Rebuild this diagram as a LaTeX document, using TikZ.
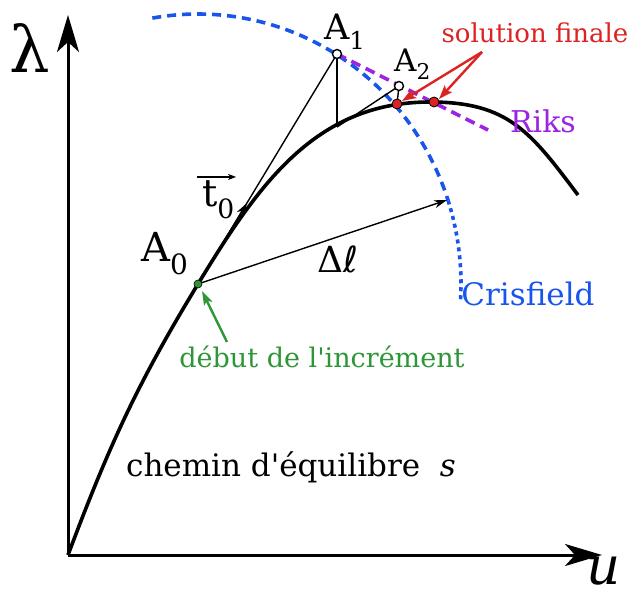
\documentclass[tikz,border=0pt]{standalone}
\usepackage{fontspec}
\setmainfont{DejaVu Serif}[Ligatures=TeXOff]
\newfontfamily\dvsans{DejaVu Sans}
\usetikzlibrary{arrows.meta}
\definecolor{cblue}{RGB}{25,85,235}
\definecolor{cpurple}{RGB}{155,35,225}
\definecolor{cred}{RGB}{220,35,35}
\definecolor{cgreen}{RGB}{45,150,55}
\tikzset{
  axis/.style={line width=3pt,-{Stealth[length=37pt,width=22pt,inset=10pt]}},
  eqpath/.style={line width=3.6pt},
  thinline/.style={line width=1.4pt},
  thinarrow/.style={line width=1.4pt,-{Stealth[length=13pt,width=8pt,inset=4pt]}},
  vecarrow/.style={line width=1.2pt,-{Stealth[length=8pt,width=6pt,inset=2pt]}},
  crisf/.style={cblue,line width=3.6pt,dash pattern=on 9pt off 6pt},
  crisfdot/.style={cblue,line width=3.6pt,dash pattern=on 4pt off 4pt},
  riks/.style={cpurple,line width=3.6pt,dash pattern=on 10pt off 6pt},
  redarrow/.style={cred,line width=2.4pt,-{Stealth[length=14pt,width=10pt,inset=3pt]}},
  greenarrow/.style={cgreen,line width=2.4pt,-{Stealth[length=14pt,width=9pt,inset=3pt]}},
  soldot/.style={circle,fill=cred,draw=black,line width=0.8pt,inner sep=0pt,minimum size=10pt},
  gdot/.style={circle,fill=cgreen,draw=black,line width=0.6pt,inner sep=0pt,minimum size=8pt},
  odot/.style={circle,fill=white,draw=black,line width=1.4pt,inner sep=0pt,minimum size=9pt},
  lab/.style={inner sep=0pt,anchor=base west},
}
\begin{document}
\begin{tikzpicture}[x=1pt,y=1pt]
\useasboundingbox (0,0) rectangle (632,598);
% key coordinates
\coordinate (O) at (68,43);
\coordinate (Ytip) at (68,583);
\coordinate (Xtip) at (602,43);
\coordinate (A0) at (198,314);
\coordinate (P) at (430,496);
\coordinate (E) at (578,403);
\coordinate (A1) at (337,544);
\coordinate (F1) at (337,471);
\coordinate (A2) at (399,512);
\coordinate (S1) at (397,494);
\coordinate (S2) at (434,496);
\coordinate (Rend) at (488,468);
\coordinate (T0) at (247,395);
\coordinate (DL) at (447,398);
\coordinate (RA) at (482,546);
\coordinate (GA) at (227,256);
% Crisfield arc
\draw[crisf] plot[domain=100:18,samples=80] ({198+263*cos(\x)},{314+270*sin(\x)});
\draw[crisfdot] plot[domain=18:-3.5,samples=25] ({198+263*cos(\x)},{314+270*sin(\x)});
% Riks line
\draw[riks] (A1) -- (Rend);
% axes
\draw[axis] (O) -- (Ytip);
\draw[axis] (O) -- (Xtip);
% equilibrium path
\draw[eqpath] (O) to[out=69.4,in=238.7] (A0) to[out=58.7,in=180] (P) to[out=0,in=127,looseness=1.15] (E);
% construction lines
\draw[thinline] (A0) -- (A1);
\draw[thinline] (A1) -- (F1);
\draw[thinline] (F1) -- (A2);
\draw[thinline] (A2) -- (S1);
\draw[thinarrow] (A0) -- (T0);
\draw[thinarrow] (A0) -- (DL);
% annotation arrows
\draw[redarrow] (RA) -- ([shift={(5,3)}]S1);
\draw[redarrow] (RA) -- ([shift={(5,3)}]S2);
\draw[greenarrow] (GA) -- ([shift={(4,-7)}]A0);
% dots
\node[soldot] (s1) at (S1) {};
\node[soldot] (s2) at (S2) {};
\node[gdot] (a0) at (A0) {};
\node[odot] (a1) at (A1) {};
\node[odot] (a2) at (A2) {};
% labels
\node[lab,font=\fontsize{40}{40}\selectfont] (lA0) at (141,336) {A\textsubscript{0}};
\node[lab,font=\fontsize{35}{35}\selectfont] (lA1) at (324,558) {A\textsubscript{1}};
\node[lab,font=\fontsize{31}{31}\selectfont] (lA2) at (394,526) {A\textsubscript{2}};
\node[lab,font=\fontsize{38}{38}\selectfont] (lt0) at (202,391) {t\textsubscript{0}};
\draw[vecarrow] ([shift={(-5,4)}]lt0.north west) -- ([shift={(1,4)}]lt0.north east);
\node[lab,font=\fontsize{36}{36}\selectfont] (ldl) at (317,325) {Δ{\dvsans ℓ}};
\node[inner sep=0pt,font=\fontsize{64}{64}\selectfont] (llam) at (30,550) {λ};
\node[lab,font=\fontsize{53}{53}\selectfont\itshape] (lu) at (586,14) {u};
\node[inner sep=0pt,text=cred,font=\fontsize{26}{26}\selectfont] (lsol) at (535,565) {solution finale};
\node[inner sep=0pt,text=cpurple,font=\fontsize{30}{30}\selectfont] (lriks) at (543,477) {Riks};
\node[inner sep=0pt,text=cblue,font=\fontsize{31}{31}\selectfont] (lcris) at (528,304) {Crisfield};
\node[inner sep=0pt,text=cgreen,font=\fontsize{27}{27}\selectfont] (ldeb) at (322,241) {début de l'incrément};
\node[inner sep=0pt,font=\fontsize{31}{31}\selectfont] (lchem) at (291,131) {chemin d'équilibre \ \textit{s}};
\end{tikzpicture}
\end{document}
